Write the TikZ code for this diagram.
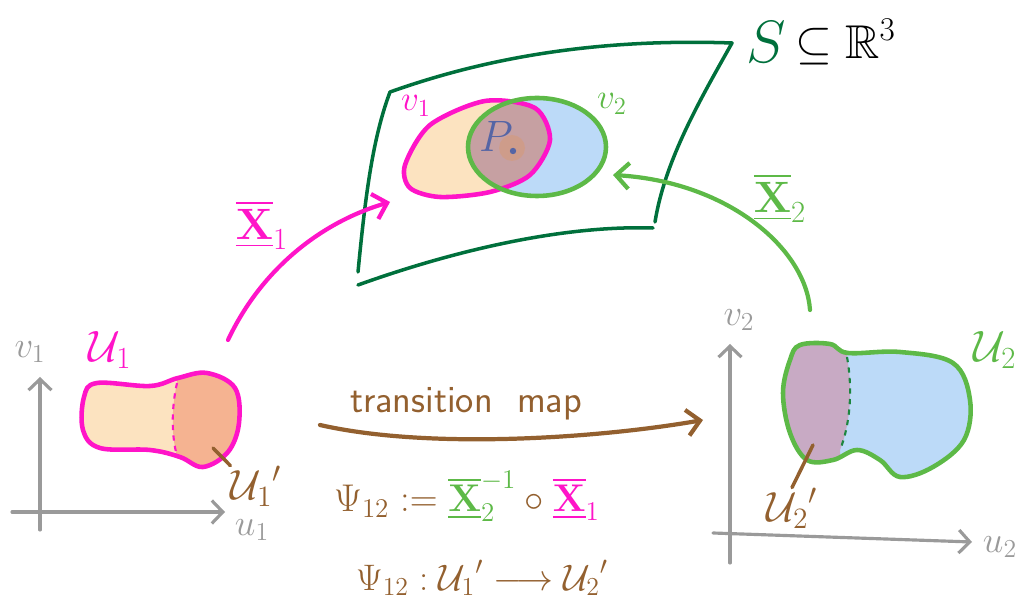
\documentclass[tikz,border=0pt]{standalone}
\usepackage{fix-cm}
\usepackage{amsmath,amssymb}
\usepackage{xcolor}
\usetikzlibrary{arrows.meta,positioning}

\definecolor{magX}{HTML}{FF14C8}
\definecolor{lgreen}{HTML}{5DB947}
\definecolor{dgreen}{HTML}{00703C}
\definecolor{brownT}{HTML}{93602F}
\definecolor{axisgray}{HTML}{9A9A9A}
\definecolor{fillO}{HTML}{FCE3C0}
\definecolor{fillP}{HTML}{F5B391}
\definecolor{fillB}{HTML}{BCDAF8}
\definecolor{fillM}{HTML}{C8AAC4}
\definecolor{fillV}{HTML}{C6A0A2}
\definecolor{pblue}{HTML}{5565A5}

\newcommand{\Xbar}{\underline{\overline{\mathbf{X}}}}
\newcommand{\shapeUone}{plot[smooth cycle, tension=0.6] coordinates {(97,383) (150,386) (178,378) (207,373) (235,388) (239,423) (228,452) (203,467) (180,457) (150,450) (100,448) (83,430) (84,397)}}
\newcommand{\shapeUtwo}{plot[smooth cycle, tension=0.6] coordinates {(800,345) (830,344) (848,353) (900,352) (953,363) (970,400) (964,440) (933,467) (900,477) (880,460) (857,450) (833,460) (807,460) (790,433) (783,393) (790,360)}}
\newcommand{\shapeVone}{plot[smooth cycle] coordinates {(405,165) (430,125) (485,101) (535,108) (550,140) (530,175) (490,192) (440,197) (410,188)}}
\newcommand{\shapeVtwo}{(537,147) ellipse [x radius=69, y radius=49]}

\begin{document}
\begin{tikzpicture}[
    x=0.02cm, y=-0.02cm,
    stroke/.style={line width=2.6pt, line cap=round, line join=round},
    axis/.style={draw=axisgray, line width=1.8pt, line cap=round,
        -{Straight Barb[length=2.2mm,width=4.6mm]}},
    maparrow/.style={line width=2.4pt, line cap=round,
        -{Straight Barb[length=2.6mm,width=5.2mm]}},
    leader/.style={draw=brownT, line width=2pt, line cap=round},
    lbl/.style={inner sep=0pt, font=\fontsize{25}{29}\selectfont},
    small/.style={inner sep=0pt, font=\fontsize{20}{24}\selectfont},
    axlbl/.style={inner sep=0pt, text=axisgray, font=\fontsize{21}{25}\selectfont}
]
\useasboundingbox (0,0) rectangle (1021,607);

% Surface S
\draw[dgreen, line width=2pt, line cap=round, line join=round]
    (358,272) .. controls (365,200) and (372,140) .. (390,92)
    .. controls (480,60) and (590,38) .. (732,43)
    .. controls (700,100) and (665,160) .. (655,222);
\draw[dgreen, line width=2pt, line cap=round]
    (358,285) .. controls (450,252) and (560,225) .. (653,228);
\node[lbl, text=dgreen, font=\fontsize{34}{38}\selectfont] (S) at (766,42) {$S$};
\node[lbl, anchor=west, font=\fontsize{27}{31}\selectfont] (R3) at (795,42) {$\subseteq\mathbb{R}^3$};

% V1 and V2 on the surface
\fill[fillO] \shapeVone;
\fill[fillB] \shapeVtwo;
\begin{scope}
    \clip \shapeVone;
    \fill[fillV] \shapeVtwo;
\end{scope}
\fill[fillP!70!brownT, opacity=0.5] (512,148) circle [radius=13];
\draw[magX, stroke] \shapeVone;
\draw[lgreen, stroke] \shapeVtwo;
\node[lbl, text=pblue] (P) at (496,136) {$P$};
\fill[pblue] (513,151) circle [radius=3.2];
\node[small, text=magX] (v1) at (416,106) {$v_1$};
\node[small, text=lgreen] (v2) at (612,104) {$v_2$};

% Chart 1
\coordinate (o1x) at (12,512);
\coordinate (e1x) at (225,512);
\coordinate (o1y) at (40,530);
\coordinate (e1y) at (40,377);
\draw[axis] (o1x) -- (e1x);
\draw[axis] (o1y) -- (e1y);
\node[axlbl] (v1ax) at (30,352) {$v_1$};
\node[axlbl] (u1ax) at (252,530) {$u_1$};

\begin{scope}
    \clip \shapeUone;
    \fill[fillO] (70,360) rectangle (260,480);
    \fill[fillP] (177,360) -- (177,383) .. controls (171,410) and (172,435) .. (176,452)
        -- (176,480) -- (260,480) -- (260,360) -- cycle;
\end{scope}
\draw[magX, line width=1.2pt, dashed] (177,383) .. controls (171,410) and (172,435) .. (176,452);
\draw[magX, stroke] \shapeUone;
\node[lbl, text=magX] (U1) at (110,350) {$\mathcal{U}_1$};
\node[lbl, text=brownT, font=\fontsize{24}{28}\selectfont] (U1p) at (256,486) {${\mathcal{U}_1}'$};
\coordinate (U1pin) at (213,448);
\draw[leader] (U1pin) -- (U1p.north west);

% Chart 2
\coordinate (o2x) at (713,533);
\coordinate (e2x) at (972,542);
\coordinate (o2y) at (730,563);
\coordinate (e2y) at (730,344);
\draw[axis] (o2x) -- (e2x);
\draw[axis] (o2y) -- (e2y);
\node[axlbl] (v2ax) at (739,320) {$v_2$};
\node[axlbl] (u2ax) at (1000,547) {$u_2$};

\begin{scope}
    \clip \shapeUtwo;
    \fill[fillB] (770,330) rectangle (990,490);
    \fill[fillM] (770,330) -- (847,330) -- (847,357) .. controls (853,390) and (850,425) .. (840,450)
        -- (840,490) -- (770,490) -- cycle;
\end{scope}
\draw[dgreen!70!lgreen, line width=1.2pt, dashed] (847,357) .. controls (853,390) and (850,425) .. (840,450);
\draw[lgreen, stroke] \shapeUtwo;
\node[lbl, text=lgreen] (U2) at (995,350) {$\mathcal{U}_2$};
\node[lbl, text=brownT, font=\fontsize{24}{28}\selectfont] (U2p) at (792,508) {${\mathcal{U}_2}'$};
\coordinate (U2pin) at (813,445);
\draw[leader] (U2pin) -- (U2p.north);

% Parametrisations
\draw[magX, maparrow] (228,340) .. controls (262,268) and (322,222) .. (390,202);
\node[lbl, text=magX] (X1) at (262,225) {$\Xbar_1$};
\draw[lgreen, maparrow] (810,310) .. controls (806,250) and (730,182) .. (613,175);
\node[lbl, text=lgreen] (X2) at (780,198) {$\Xbar_2$};

% Transition map
\draw[brownT, maparrow] (320,425) .. controls (430,450) and (600,438) .. (703,420);
\node[inner sep=0pt, text=brownT, font=\sffamily\fontsize{22}{26}\selectfont] (tm) at (466,404) {transition\ \ map};
\node[inner sep=0pt, text=brownT, font=\fontsize{22}{26}\selectfont] (psi) at (467,496)
    {$\Psi_{12} \mathrel{:=} \textcolor{lgreen}{\Xbar_2^{-1}} \circ \textcolor{magX}{\Xbar_1}$};
\node[inner sep=0pt, text=brownT, font=\fontsize{21}{25}\selectfont] (psimap) at (482,578)
    {$\Psi_{12} : {\mathcal{U}_1}' \longrightarrow {\mathcal{U}_2}'$};

\end{tikzpicture}
\end{document}
